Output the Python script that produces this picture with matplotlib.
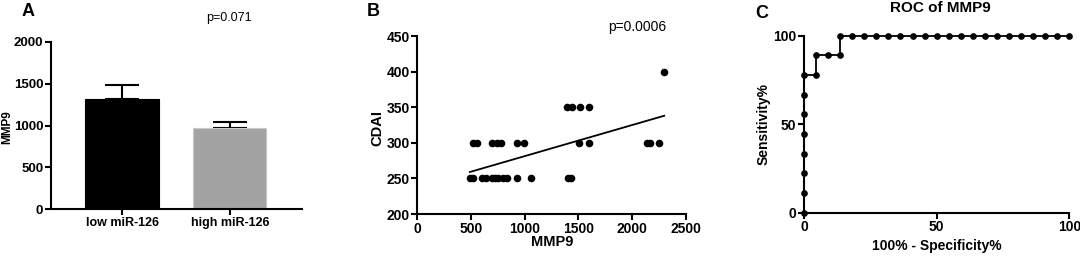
import matplotlib
matplotlib.use("Agg")
import matplotlib.pyplot as plt
import numpy as np

plt.rcParams['font.family'] = ['Liberation Sans', 'DejaVu Sans']
plt.rcParams['font.weight'] = 'bold'

# ---- Panel A data ----
a_categories = ["low miR-126", "high miR-126"]
a_means = [1320, 965]
a_errors = [160, 75]
a_colors = ["#000000", "#a3a3a3"]
a_yticks = [0, 500, 1000, 1500, 2000]

# ---- Panel B data ----
b_x = [491, 522, 605, 637, 693, 724, 755, 801, 833, 926, 1056, 1407, 1432,
       520, 560, 700, 740, 780, 926, 997, 1506, 1599, 2136, 2167, 2251,
       1390, 1440, 1515, 1595,
       2300]
b_y = [250, 250, 250, 250, 250, 250, 250, 250, 250, 250, 250, 250, 250,
       300, 300, 300, 300, 300, 300, 300, 300, 300, 300, 300, 300,
       350, 350, 350, 350,
       400]
b_fit_x = [490, 2300]
b_fit_y = [259, 338]
b_xticks = [0, 500, 1000, 1500, 2000, 2500]
b_yticks = [200, 250, 300, 350, 400, 450]

# ---- Panel C data (ROC) ----
c_x = [0, 0, 0, 0, 0, 0, 0, 0, 4.55, 4.55, 9.09, 13.64, 13.64, 18.18, 22.73,
       27.27, 31.82, 36.36, 40.91, 45.45, 50, 54.55, 59.09, 63.64, 68.18,
       72.73, 77.27, 81.82, 86.36, 90.91, 95.45, 100]
c_y = [0, 11.11, 22.22, 33.33, 44.44, 55.56, 66.67, 77.78, 77.78, 88.89,
       88.89, 88.89, 100, 100, 100, 100, 100, 100, 100, 100, 100, 100, 100,
       100, 100, 100, 100, 100, 100, 100, 100, 100]
c_ticks = [0, 50, 100]

W, H = 1080, 256
fig = plt.figure(figsize=(W / 100, H / 100), dpi=100)


def ax_at(l, r, b, t):
    return fig.add_axes([l / W, 1 - b / H, (r - l) / W, (b - t) / H])


def ftext(x, y, s, **kw):
    kw.setdefault('ha', 'center')
    kw.setdefault('va', 'center')
    kw.setdefault('fontweight', 'bold')
    fig.text(x / W, 1 - y / H, s, **kw)


def style(ax, fs):
    for s in ['top', 'right']:
        ax.spines[s].set_visible(False)
    for s in ['left', 'bottom']:
        ax.spines[s].set_linewidth(1.5)
    ax.tick_params(width=1.5, length=4, labelsize=fs, pad=1.5)
    for lab in ax.get_xticklabels() + ax.get_yticklabels():
        lab.set_fontweight('bold')


# Panel A
axA = ax_at(51, 302, 209, 42)
xa = np.arange(len(a_categories))
axA.bar(xa, a_means, width=0.68, color=a_colors, edgecolor=["#000000", "#c8c8c8"],
        linewidth=0.8, zorder=2)
axA.errorbar(xa, a_means, yerr=[[0, 0], a_errors], fmt='none', ecolor='black',
             elinewidth=1.5, capsize=12, capthick=1.5, zorder=1)
axA.set_xlim(-0.66, 1.67)
axA.set_ylim(0, 2000)
axA.set_yticks(a_yticks)
axA.set_xticks(xa)
axA.set_xticklabels(a_categories)
style(axA, 9.5)
axA.tick_params(axis='x', labelsize=9)
ftext(7, 127, "MMP9", fontsize=8.5, rotation=90)
ftext(229, 18, "p=0.071", fontsize=9, fontweight='normal')
ftext(22, 12, "A", ha='left', fontsize=13)

# Panel B
axB = ax_at(417.3, 685.7, 214, 36)
axB.scatter(b_x, b_y, s=30, color='black', zorder=3, clip_on=False, linewidths=0)
axB.plot(b_fit_x, b_fit_y, color='black', linewidth=1.3)
axB.set_xlim(0, 2500)
axB.set_ylim(200, 450)
axB.set_xticks(b_xticks)
axB.set_yticks(b_yticks)
style(axB, 10)
ftext(552, 242, "MMP9", fontsize=10.5)
ftext(377, 128, "CDAI", fontsize=10.5, rotation=90)
ftext(637, 27, "p=0.0006", fontsize=10, fontweight='normal')
ftext(367, 12, "B", ha='left', fontsize=13)

# Panel C
axC = ax_at(804, 1069.3, 212.7, 35.7)
axC.plot(c_x, c_y, color='black', linewidth=1.3, marker='o', markersize=3.8,
         clip_on=False, zorder=3)
axC.set_xlim(0, 100)
axC.set_ylim(0, 100)
axC.set_xticks(c_ticks)
axC.set_yticks(c_ticks)
style(axC, 10)
ftext(937, 246, "100% - Specificity%", fontsize=10)
ftext(764, 124, "Sensitivity%", fontsize=10, rotation=90)
ftext(940, 8, "ROC of MMP9", fontsize=11)
ftext(755, 13, "C", ha='left', fontsize=13)

fig.savefig("out.png", dpi=100)
